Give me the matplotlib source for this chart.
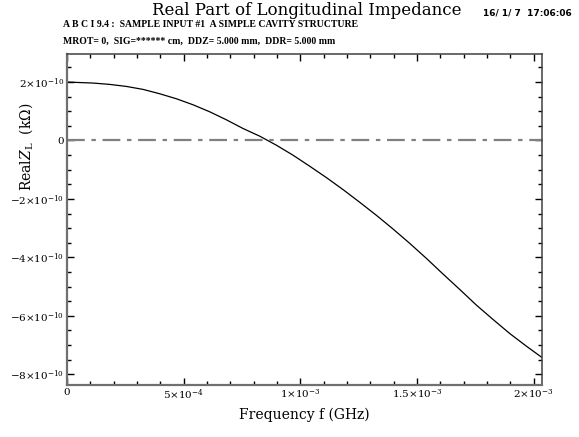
import numpy as np
import matplotlib
matplotlib.use("Agg")
import matplotlib.pyplot as plt
from matplotlib.ticker import MultipleLocator

# data
freq = [0.0, 1.114e-4, 1.828e-4, 2.542e-4, 3.256e-4, 3.970e-4, 4.684e-4, 5.398e-4,
        6.112e-4, 6.826e-4, 7.540e-4, 8.254e-4, 8.968e-4, 9.682e-4, 1.0396e-3,
        1.1111e-3, 1.1825e-3, 1.2539e-3, 1.3253e-3, 1.3967e-3, 1.4681e-3, 1.5395e-3,
        1.6109e-3, 1.6823e-3, 1.7537e-3, 1.8251e-3, 1.8965e-3, 1.9679e-3, 2.035e-3]
rez = [2.000e-10, 1.966e-10, 1.920e-10, 1.851e-10, 1.749e-10, 1.600e-10, 1.429e-10,
       1.223e-10, 0.983e-10, 0.709e-10, 0.411e-10, 0.149e-10, -0.160e-10, -0.503e-10,
       -0.880e-10, -1.269e-10, -1.680e-10, -2.114e-10, -2.560e-10, -3.029e-10,
       -3.520e-10, -4.034e-10, -4.571e-10, -5.097e-10, -5.634e-10, -6.126e-10,
       -6.606e-10, -7.040e-10, -7.429e-10]

xticks = [0, 5e-4, 1e-3, 1.5e-3, 2e-3]
xticklabels = ['0', r'$5{\times}10^{-4}$', r'$1{\times}10^{-3}$',
               r'$1.5{\times}10^{-3}$', r'$2{\times}10^{-3}$']
yticks = [-8e-10, -6e-10, -4e-10, -2e-10, 0, 2e-10]
yticklabels = [r'$-8{\times}10^{-10}$', r'$-6{\times}10^{-10}$', r'$-4{\times}10^{-10}$',
               r'$-2{\times}10^{-10}$', '0', r'$2{\times}10^{-10}$']

plt.rcParams['font.family'] = 'DejaVu Serif'
plt.rcParams['mathtext.fontset'] = 'dejavuserif'

fig = plt.figure(figsize=(5.79, 4.37), dpi=100)
ax = fig.add_axes([0.1157, 0.119, 0.8204, 0.7574])

ax.plot(freq, rez, color='black', linewidth=0.9)
ax.axhline(0, color='#808080', linewidth=1.6, linestyle=(0, (8, 3, 2, 3)))

ax.set_xlim(0, 2.035e-3)
ax.set_ylim(-8.37e-10, 2.96e-10)
ax.set_xticks(xticks)
ax.set_xticklabels(xticklabels, fontsize=7.5)
ax.set_yticks(yticks)
ax.set_yticklabels(yticklabels, fontsize=7.5)
ax.xaxis.set_minor_locator(MultipleLocator(1e-4))
ax.yaxis.set_minor_locator(MultipleLocator(0.5e-10))
ax.tick_params(which='both', direction='in', top=True, right=True, width=1)
ax.tick_params(which='major', length=5, pad=2)
ax.tick_params(which='minor', length=3)
for name, s in ax.spines.items():
    if name in ('left', 'bottom'):
        s.set_color('#707070')
        s.set_linewidth(1.6)
    else:
        s.set_color('#404040')
        s.set_linewidth(1.1)

ax.set_xlabel('Frequency f (GHz)', fontsize=10, labelpad=4)
# sits in the gap between the 2e-10 and -2e-10 tick labels
fig.text(0.045, 0.663, r'Real$Z_{\rm L}$  (k$\Omega$)', rotation=90,
         ha='center', va='center', fontsize=10)

fig.text(0.53, 0.995, 'Real Part of Longitudinal Impedance', ha='center', va='top',
         fontsize=12)
fig.text(0.987, 0.971, '16/ 1/ 7  17:06:06', ha='right', va='center', fontsize=6.5,
         fontweight='bold', family='DejaVu Sans')
fig.text(0.109, 0.943, 'A B C I 9.4 :  SAMPLE INPUT #1  A SIMPLE CAVITY STRUCTURE',
         ha='left', va='center', fontsize=7, fontweight='bold', family='Liberation Serif')
fig.text(0.109, 0.906, 'MROT= 0,  SIG=****** cm,  DDZ= 5.000 mm,  DDR= 5.000 mm',
         ha='left', va='center', fontsize=7, fontweight='bold', family='Liberation Serif')

fig.savefig('out.png', dpi=100)
